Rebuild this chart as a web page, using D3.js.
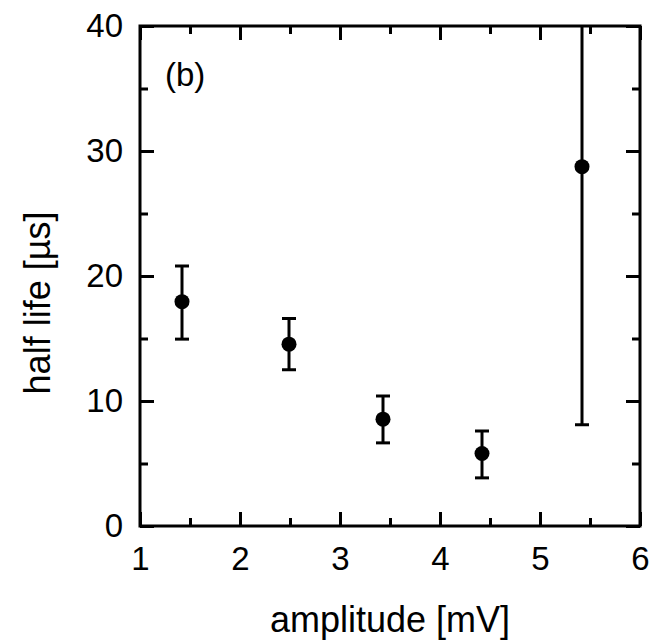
<!DOCTYPE html>
<html lang="en">
	<head>
		<meta charset="UTF-8"/>
		<title>half life vs amplitude</title>
		<script type="text/javascript" src="https://cdn.jsdelivr.net/npm/d3@7"></script>
		<style>
			body { margin: 0; background: #fff; }
			text { font-family: "Liberation Sans", Arial, sans-serif; fill: #000; }
		</style>
	</head>
	<body>
		<script type="text/javascript">
			var w = 655;
			var h = 643;

			// data
			var amplitude = [1.42, 2.49, 3.43, 4.42, 5.42];
			var halfLife = [17.95, 14.55, 8.55, 5.8, 28.75];
			var errLow = [14.95, 12.5, 6.65, 3.85, 8.1];
			var errHigh = [20.8, 16.6, 10.4, 7.6, 49.4];
			var xTicks = [1, 2, 3, 4, 5, 6];
			var yTicks = [0, 10, 20, 30, 40];
			var xMinor = [1.5, 2.5, 3.5, 4.5, 5.5];
			var yMinor = [5, 15, 25, 35];

			var pLeft = 140, pRight = 640, pTop = 26, pBottom = 526;

			var xScale = d3.scaleLinear()
				.domain([1, 6])
				.range([pLeft, pRight]);

			var yScale = d3.scaleLinear()
				.domain([0, 40])
				.range([pBottom, pTop]);

			var svg = d3.select("body")
				.append("svg")
				.attr("width", w)
				.attr("height", h);

			svg.append("clipPath")
				.attr("id", "plotclip")
				.append("rect")
				.attr("x", pLeft)
				.attr("y", pTop)
				.attr("width", pRight - pLeft)
				.attr("height", pBottom - pTop);

			// Axes with inward ticks on all four sides
			function addAxis(axis, tx, ty, labels) {
				var g = svg.append("g")
					.attr("transform", "translate(" + tx + "," + ty + ")")
					.attr("font-size", 33)
					.attr("font-family", null)
					.call(axis);
				g.attr("font-size", 33).attr("font-family", null);
				g.select(".domain").remove();
				g.selectAll("line").attr("stroke", "#000").attr("stroke-width", 3);
				if (!labels) g.selectAll("text").remove();
				return g;
			}

			var major = 14, minor = 8;

			addAxis(d3.axisBottom(xScale).tickValues(xTicks).tickSize(-major).tickPadding(21).tickFormat(d3.format("d")), 0, pBottom, true);
			addAxis(d3.axisBottom(xScale).tickValues(xMinor).tickSize(-minor), 0, pBottom, false);
			addAxis(d3.axisTop(xScale).tickValues(xTicks).tickSize(-major), 0, pTop, false);
			addAxis(d3.axisTop(xScale).tickValues(xMinor).tickSize(-minor), 0, pTop, false);

			addAxis(d3.axisLeft(yScale).tickValues(yTicks).tickSize(-major).tickPadding(17).tickFormat(d3.format("d")), pLeft, 0, true);
			addAxis(d3.axisLeft(yScale).tickValues(yMinor).tickSize(-minor), pLeft, 0, false);
			addAxis(d3.axisRight(yScale).tickValues(yTicks).tickSize(-major), pRight, 0, false);
			addAxis(d3.axisRight(yScale).tickValues(yMinor).tickSize(-minor), pRight, 0, false);

			// Frame
			svg.append("rect")
				.attr("x", pLeft)
				.attr("y", pTop)
				.attr("width", pRight - pLeft)
				.attr("height", pBottom - pTop)
				.attr("fill", "none")
				.attr("stroke", "#000")
				.attr("stroke-width", 3);

			// Error bars
			var plot = svg.append("g").attr("clip-path", "url(#plotclip)");
			var capW = 7;

			amplitude.forEach(function(a, i) {
				var cx = xScale(a);
				plot.append("line")
					.attr("x1", cx).attr("x2", cx)
					.attr("y1", yScale(errLow[i])).attr("y2", yScale(errHigh[i]))
					.attr("stroke", "#000").attr("stroke-width", 3);
				[errLow[i], errHigh[i]].forEach(function(v) {
					plot.append("line")
						.attr("x1", cx - capW).attr("x2", cx + capW)
						.attr("y1", yScale(v)).attr("y2", yScale(v))
						.attr("stroke", "#000").attr("stroke-width", 3);
				});
			});

			// Points
			plot.selectAll("circle")
				.data(amplitude)
				.enter()
				.append("circle")
				.attr("cx", function(d) { return xScale(d); })
				.attr("cy", function(d, i) { return yScale(halfLife[i]); })
				.attr("r", 7.5)
				.attr("fill", "#000");

			// Labels
			svg.append("text")
				.attr("x", 165)
				.attr("y", 86)
				.attr("font-size", "33px")
				.text("(b)");

			svg.append("text")
				.attr("x", (pLeft + pRight) / 2)
				.attr("y", 632)
				.attr("text-anchor", "middle")
				.attr("font-size", "36px")
				.text("amplitude [mV]");

			svg.append("text")
				.attr("transform", "translate(50," + 303 + ") rotate(-90)")
				.attr("text-anchor", "middle")
				.attr("font-size", "36px")
				.text("half life [\u00b5s]");
		</script>
	</body>
</html>
